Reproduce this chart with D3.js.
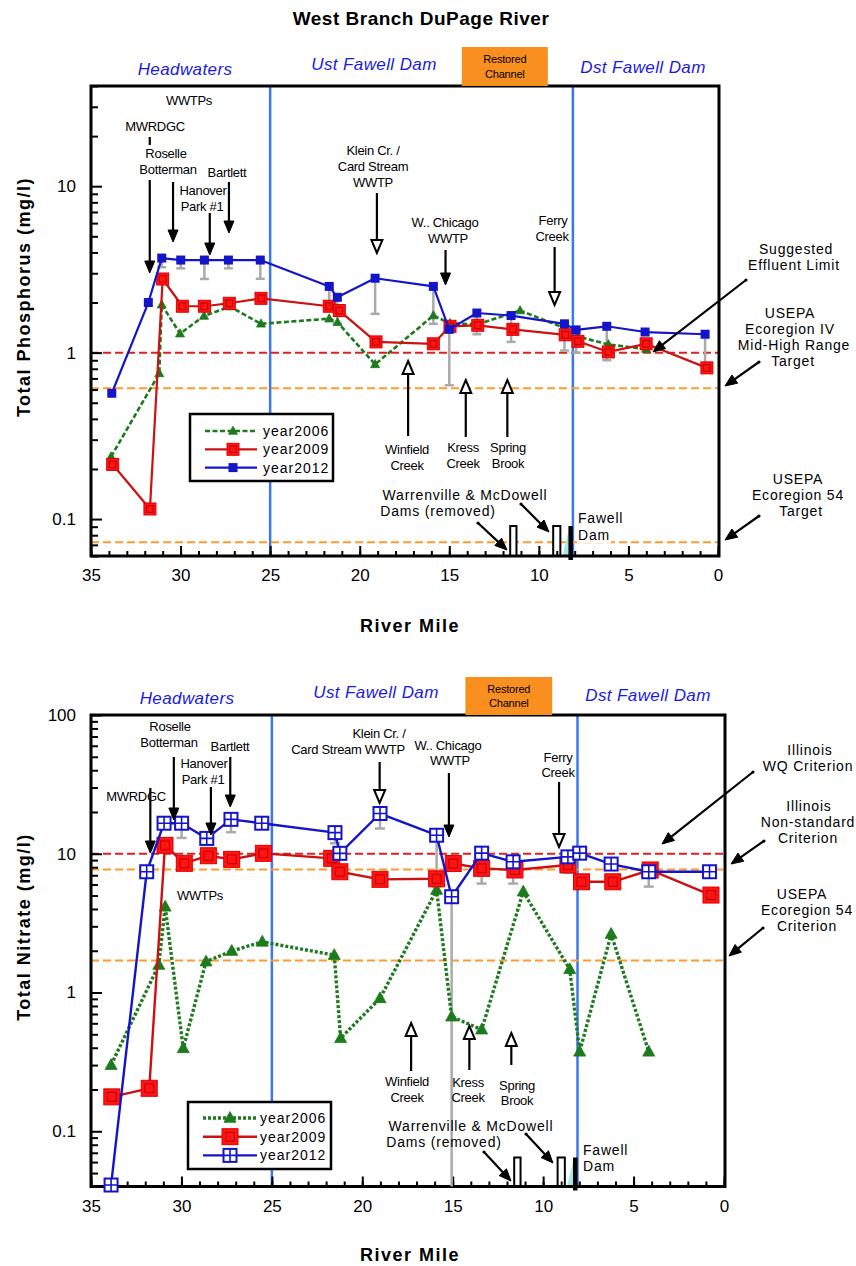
<!DOCTYPE html>
<html>
<head>
<meta charset="utf-8">
<script src="https://cdn.jsdelivr.net/npm/d3@7"></script>
<style>
  body { margin: 0; background: #fff; }
  svg { display: block; font-family: "Liberation Sans", Arial, Helvetica, sans-serif; }
</style>
</head>
<body>
<svg id="chart" width="856" height="1266"></svg>
<script>
// ---------------- data ----------------
const seriesNames = ["year2006", "year2009", "year2012"];

// Total phosphorus (mg/l) by river mile
const tpMile2006 = [33.88, 31.19, 31.05, 30.03, 28.69, 27.24, 25.51, 21.7, 21.24, 19.14, 15.89, 14.96, 13.41, 11.05, 8.53, 7.82, 6.12, 4.01];
const tpVal2006  = [0.237, 0.75, 1.94, 1.30, 1.66, 1.89, 1.49, 1.60, 1.52, 0.85, 1.67, 1.50, 1.48, 1.79, 1.40, 1.25, 1.12, 1.05];
const tpMile2009 = [33.79, 31.71, 31.0, 29.9, 28.67, 27.28, 25.51, 21.7, 21.14, 19.09, 15.89, 14.96, 13.41, 11.45, 8.53, 7.82, 6.12, 4.01, 0.62];
const tpVal2009  = [0.213, 0.115, 2.77, 1.90, 1.90, 1.98, 2.12, 1.90, 1.79, 1.16, 1.13, 1.44, 1.46, 1.38, 1.28, 1.17, 1.01, 1.13, 0.81];
const tpMile2012 = [33.84, 31.8, 31.05, 29.99, 28.67, 27.33, 25.55, 21.7, 21.25, 19.14, 15.89, 15.0, 13.46, 11.55, 8.57, 7.92, 6.21, 4.07, 0.72];
const tpVal2012  = [0.57, 2.0, 3.7, 3.6, 3.6, 3.6, 3.6, 2.5, 2.15, 2.8, 2.5, 1.38, 1.73, 1.67, 1.49, 1.37, 1.44, 1.33, 1.29];
const tpLow2012  = [null, null, 3.26, 3.21, 2.77, 3.21, 2.78, 2.01, 1.49, 1.71, 1.49, 0.637, 1.29, 1.16, 1.03, 1.0, 0.90, null, 0.84];

// Total nitrate (mg/l) by river mile
const noMile2006 = [33.89, 31.25, 30.9, 29.9, 28.64, 27.22, 25.53, 21.55, 21.2, 19.02, 15.89, 15.06, 13.4, 11.1, 8.53, 7.98, 6.24, 4.16];
const noVal2006  = [0.30, 1.58, 4.15, 0.396, 1.67, 1.99, 2.32, 1.86, 0.468, 0.908, 5.48, 0.67, 0.54, 5.33, 1.47, 0.374, 2.64, 0.374];
const noMile2009 = [33.85, 31.78, 30.91, 29.84, 28.51, 27.22, 25.47, 21.69, 21.24, 19.02, 15.89, 14.97, 13.4, 11.56, 8.63, 7.88, 6.15, 4.08, 0.72];
const noVal2009  = [0.177, 0.204, 11.5, 8.53, 9.68, 9.11, 10.07, 9.27, 7.42, 6.54, 6.6, 8.5, 7.85, 7.64, 8.3, 6.28, 6.28, 7.64, 5.04];
const noMile2012 = [33.89, 31.92, 30.96, 29.99, 28.6, 27.26, 25.56, 21.51, 21.24, 19.02, 15.89, 15.06, 13.4, 11.66, 8.63, 7.98, 6.24, 4.16, 0.8];
const noVal2012  = [0.041, 7.42, 16.6, 16.6, 12.9, 17.7, 16.6, 14.2, 10.07, 19.5, 13.6, 4.9, 10.1, 8.75, 9.5, 10.1, 8.43, 7.42, 7.42];
const noLow2012  = [null, null, null, 13.0, null, 14.3, null, 11.9, null, 15.2, 5.8, 0.01, 6.1, 6.1, 7.3, null, null, 5.8, null];

// criteria / targets
const tpRedLines = [1.0];
const tpOrangeLines = [0.61, 0.0725];
const noRedLines = [10];
const noOrangeLines = [7.7, 1.7];

// river features (river mile)
const xTickMiles = d3.range(0, 36);
const xLabelMiles = d3.range(0, 36, 5);
const reachBreakMiles = [25, 8.1];
const reachNames = ["Headwaters", "Ust Fawell Dam", "Dst Fawell Dam"];
const restoredReach = [14.3, 9.5];
const outfallNames = ["MWRDGC", "Roselle Botterman", "Hanover Park #1", "Bartlett", "Klein Cr. / Card Stream WWTP", "W.. Chicago WWTP", "Ferry Creek"];
const outfallMiles = [31.72, 30.42, 28.37, 27.3, 19.04, 15.21, 9.12];
const tributaryNames = ["Winfield Creek", "Kress Creek", "Spring Brook"];
const tributaryMiles = [17.3, 14.08, 11.76];
const damUpMiles = [11.6, 9.2, 8.35];
const damDownMiles = [11.25, 8.8, 8.1];

// ---------------- drawing ----------------
const svg = d3.select("#chart");
const GREEN = "#1d7a1d", RED = "#cc1111", REDFILL = "#ff1414", BLUE = "#1414c8";
const VLINE = "#3a78f0", ORANGE = "#ff9a2e", REFRED = "#dd2020", GRAY = "#aaaaaa";

function label(g, x, y, str, o = {}) {
  return g.append("text")
    .attr("x", x).attr("y", y).attr("dy", "0.35em")
    .attr("text-anchor", o.anchor || "middle")
    .style("font-size", (o.size || 13) + "px")
    .style("letter-spacing", (o.ls || 0) + "px")
    .style("font-style", o.italic ? "italic" : null)
    .style("font-weight", o.bold ? "bold" : null)
    .attr("fill", o.fill || "#000")
    .text(str);
}

function arrow(g, x1, y1, x2, y2, open, dot) {
  const ang = Math.atan2(y2 - y1, x2 - x1);
  const len = open ? 13 : 12, hw = open ? 5.5 : 5;
  const bx = x2 - len * Math.cos(ang), by = y2 - len * Math.sin(ang);
  const ex = open ? bx : x2 - len * 0.6 * Math.cos(ang);
  const ey = open ? by : y2 - len * 0.6 * Math.sin(ang);
  g.append("line").attr("x1", x1).attr("y1", y1).attr("x2", ex).attr("y2", ey)
    .attr("stroke", "#000").attr("stroke-width", 2.2);
  const px = -Math.sin(ang) * hw, py = Math.cos(ang) * hw;
  g.append("path")
    .attr("d", `M${x2},${y2}L${bx + px},${by + py}L${bx - px},${by - py}Z`)
    .attr("fill", open ? "#fff" : "#000")
    .attr("stroke", "#000").attr("stroke-width", open ? 2 : 1)
    .attr("stroke-linejoin", "miter");
  if (dot) g.append("circle").attr("cx", x1).attr("cy", y1).attr("r", 1.6).attr("fill", "#000");
}

function marker(g, kind, cx, cy, s) {
  if (kind === "tri") {
    const h = s * 0.9;
    g.append("path").attr("d", `M${cx},${cy - h * 0.6}L${cx + s / 2},${cy + h * 0.4}L${cx - s / 2},${cy + h * 0.4}Z`)
      .attr("fill", GREEN).attr("stroke", GREEN).attr("stroke-width", 0.8);
  } else if (kind === "red") {
    g.append("rect").attr("x", cx - s / 2).attr("y", cy - s / 2).attr("width", s).attr("height", s)
      .attr("fill", REDFILL).attr("stroke", "#dd0000").attr("stroke-width", 1);
    const i = s * 0.55;
    g.append("rect").attr("x", cx - i / 2).attr("y", cy - i / 2).attr("width", i).attr("height", i)
      .attr("fill", "none").attr("stroke", "#bb0000").attr("stroke-width", 1);
  } else if (kind === "blue") {
    g.append("rect").attr("x", cx - s / 2).attr("y", cy - s / 2).attr("width", s).attr("height", s)
      .attr("fill", BLUE);
  } else if (kind === "grid") {
    g.append("rect").attr("x", cx - s / 2).attr("y", cy - s / 2).attr("width", s).attr("height", s)
      .attr("fill", "#fff").attr("stroke", BLUE).attr("stroke-width", 2);
    g.append("path").attr("d", `M${cx},${cy - s / 2}V${cy + s / 2}M${cx - s / 2},${cy}H${cx + s / 2}`)
      .attr("stroke", BLUE).attr("stroke-width", 1.6);
  }
}

function drawPanel(p) {
  const x = d3.scaleLinear().domain([35, 0]).range([p.left, p.right]);
  const y = d3.scaleLog().domain(p.yDomain).range([p.bottom, p.top]);
  const g = svg.append("g");
  const clipId = "clip-" + p.key;
  svg.append("clipPath").attr("id", clipId).append("rect")
    .attr("x", p.left).attr("y", p.top).attr("width", p.right - p.left).attr("height", p.bottom - p.top);

  // reach boundaries
  reachBreakMiles.forEach(m => {
    g.append("line").attr("x1", x(m)).attr("x2", x(m)).attr("y1", p.top).attr("y2", p.bottom)
      .attr("stroke", VLINE).attr("stroke-width", 2.5);
  });

  // criteria lines
  p.redLines.forEach(v => {
    g.append("line").attr("x1", p.left).attr("x2", p.right).attr("y1", y(v)).attr("y2", y(v))
      .attr("stroke", REFRED).attr("stroke-width", 2).attr("stroke-dasharray", "8,4");
  });
  p.orangeLines.forEach(v => {
    g.append("line").attr("x1", p.left).attr("x2", p.right).attr("y1", y(v)).attr("y2", y(v))
      .attr("stroke", ORANGE).attr("stroke-width", 2).attr("stroke-dasharray", "8,4");
  });

  // dams
  damUpMiles.forEach((m, i) => {
    const x0 = x(m), x1 = x(damDownMiles[i]);
    if (i === 2) {
      g.append("path").attr("d", `M${x0 - 6},${p.bottom}L${x0},${p.bottom}L${x0},${p.bottom - 25}Z`)
        .attr("fill", "#a6e6ee");
      g.append("rect").attr("x", x0).attr("y", p.bottom - p.damH).attr("width", x1 - x0).attr("height", p.damH + 4)
        .attr("fill", "#000");
    } else {
      g.append("rect").attr("x", x0).attr("y", p.bottom - p.damH).attr("width", x1 - x0).attr("height", p.damH)
        .attr("fill", "#fff").attr("stroke", "#000").attr("stroke-width", 2);
    }
  });

  // axes (ticks point inward)
  const logTicks = [];
  const k0 = Math.floor(Math.log10(p.yDomain[0])), k1 = Math.ceil(Math.log10(p.yDomain[1]));
  for (let k = k0; k <= k1; k++) for (let m = 1; m <= 9; m++) {
    const v = +(m * Math.pow(10, k)).toPrecision(6);
    if (v >= p.yDomain[0] * 0.999 && v <= p.yDomain[1] * 1.001) logTicks.push({ v, major: m === 1 });
  }
  const yMinor = g.append("g").attr("transform", `translate(${p.left},0)`)
    .call(d3.axisLeft(y).tickValues(logTicks.filter(t => !t.major).map(t => t.v)).tickSize(-7).tickFormat(""));
  const yMajor = g.append("g").attr("transform", `translate(${p.left},0)`)
    .call(d3.axisLeft(y).tickValues(logTicks.filter(t => t.major).map(t => t.v)).tickSize(-11).tickPadding(15)
      .tickFormat(d3.format("~g")));
  const xMinor = g.append("g").attr("transform", `translate(0,${p.bottom})`)
    .call(d3.axisBottom(x).tickValues(xTickMiles).tickSize(-5).tickFormat(""));
  const xMajor = g.append("g").attr("transform", `translate(0,${p.bottom})`)
    .call(d3.axisBottom(x).tickValues(xLabelMiles).tickSize(-10).tickPadding(13).tickFormat(d3.format("d")));
  [yMinor, yMajor, xMinor, xMajor].forEach(a => {
    a.select(".domain").remove();
    a.selectAll("line").attr("stroke", "#000").attr("stroke-width", 2);
    a.selectAll("text").attr("fill", "#000").style("font-size", "17px")
      .style("font-family", '"Liberation Sans", Arial, sans-serif');
  });

  // frame
  g.append("rect").attr("x", p.left).attr("y", p.top).attr("width", p.frameRight - p.left).attr("height", p.bottom - p.top)
    .attr("fill", "none").attr("stroke", "#000").attr("stroke-width", 3);

  // lower whiskers for 2012
  const whisk = g.append("g").attr("clip-path", `url(#${clipId})`);
  p.lowVals.forEach((lv, i) => {
    if (lv == null) return;
    const cx = x(p.series[2].miles[i]);
    const ly = Math.min(y(lv), p.bottom + 10);
    whisk.append("line").attr("x1", cx).attr("x2", cx).attr("y1", y(p.series[2].vals[i])).attr("y2", ly)
      .attr("stroke", GRAY).attr("stroke-width", 2.5);
    whisk.append("line").attr("x1", cx - p.capW / 2).attr("x2", cx + p.capW / 2).attr("y1", ly).attr("y2", ly)
      .attr("stroke", GRAY).attr("stroke-width", 2.5);
  });

  // series
  p.series.forEach(s => {
    const pts = s.miles.map((m, i) => [x(m), y(s.vals[i])]);
    g.append("path").attr("d", d3.line()(pts)).attr("fill", "none")
      .attr("stroke", s.color).attr("stroke-width", s.width)
      .attr("stroke-dasharray", s.dash || null).attr("stroke-linejoin", "round");
    const mg = g.append("g");
    pts.forEach(pt => marker(mg, s.marker, pt[0], pt[1], s.size));
  });

  // legend
  const L = p.legend;
  const lg = g.append("g");
  lg.append("rect").attr("x", L.x).attr("y", L.y).attr("width", L.w).attr("height", L.h)
    .attr("fill", "#fff").attr("stroke", "#000").attr("stroke-width", 2.5);
  p.series.forEach((s, i) => {
    const ry = L.y + L.row0 + i * L.dy;
    lg.append("line").attr("x1", L.x + L.lx0).attr("x2", L.x + L.lx1).attr("y1", ry).attr("y2", ry)
      .attr("stroke", s.color).attr("stroke-width", s.width).attr("stroke-dasharray", s.dash || null);
    marker(lg, s.marker, L.x + L.mx, ry, s.size);
    label(lg, L.x + L.tx, ry, s.name, { anchor: "start", size: 14, ls: 1 });
  });

  // reach labels and restored channel
  const hg = g.append("g");
  p.reachLabels.forEach((r, i) => label(hg, r[0], r[1], reachNames[i], { size: 17, italic: true, ls: 0.4, fill: "#1a1ae6" }));
  hg.append("rect").attr("x", x(restoredReach[0])).attr("y", p.top - p.rcH)
    .attr("width", x(restoredReach[1]) - x(restoredReach[0])).attr("height", p.rcH).attr("fill", "#f98f1e");
  const rcx = (x(restoredReach[0]) + x(restoredReach[1])) / 2;
  label(hg, rcx, p.top - p.rcH * 0.68, "Restored", { size: 11, ls: -0.2 });
  label(hg, rcx, p.top - p.rcH * 0.3, "Channel", { size: 11, ls: -0.2 });

  // annotations
  const ag = g.append("g");
  p.texts.forEach(t => {
    const el = label(ag, t[0], t[1], t[2], Object.assign({ size: 13, ls: -0.3 }, t[3] || {}));
    if (t[3] && t[3].bg) {
      const bb = el.node().getBBox();
      ag.insert("rect", () => el.node()).attr("x", bb.x - 1).attr("y", bb.y).attr("width", bb.width + 2)
        .attr("height", bb.height).attr("fill", "#fff");
    }
  });
  p.outfallArrows.forEach(a => {
    const ax = x(outfallMiles[a.i]);
    if (a.stub) ag.append("line").attr("x1", ax).attr("x2", ax).attr("y1", a.stub[0]).attr("y2", a.stub[1])
      .attr("stroke", "#000").attr("stroke-width", 2.2);
    arrow(ag, ax, a.y1, ax, a.y2, a.open, false);
  });
  p.tribArrows.forEach(a => {
    const ax = x(tributaryMiles[a.i]);
    arrow(ag, ax, a.y1, ax, a.y2, true, false);
  });
  p.slantArrows.forEach(a => arrow(ag, a[0], a[1], a[2], a[3], false, true));

  // axis titles
  label(g, 410, p.xTitleY, "River Mile", { size: 18, bold: true, ls: 1.5 });
  g.append("text").attr("transform", `translate(24,${p.yTitleY}) rotate(-90)`)
    .attr("text-anchor", "middle").attr("dy", "0.35em")
    .style("font-size", "18px").style("font-weight", "bold").style("letter-spacing", "1.5px")
    .text(p.yTitle);
}

const sm = { bold: false };
const right = { size: 14, ls: 0.8 };

drawPanel({
  key: "tp", left: 91, right: 718, frameRight: 719, top: 86, bottom: 556,
  yDomain: [0.06, 40], yTitle: "Total Phosphorus (mg/l)", yTitleY: 297, xTitleY: 626,
  redLines: tpRedLines, orangeLines: tpOrangeLines, damH: 30, capW: 9, rcH: 39,
  series: [
    { name: seriesNames[0], miles: tpMile2006, vals: tpVal2006, color: GREEN, width: 2.6, dash: "5,2.5", marker: "tri", size: 9 },
    { name: seriesNames[1], miles: tpMile2009, vals: tpVal2009, color: RED, width: 2.2, marker: "red", size: 12 },
    { name: seriesNames[2], miles: tpMile2012, vals: tpVal2012, color: BLUE, width: 2.2, marker: "blue", size: 9 }
  ],
  lowVals: tpLow2012,
  legend: { x: 190, y: 414, w: 143, h: 67, row0: 17, dy: 18.3, lx0: 15, lx1: 67, mx: 43, tx: 73 },
  reachLabels: [[185, 69], [374, 64], [643, 67]],
  texts: [
    [189, 100, "WWTPs"], [155, 126, "MWRDGC"], [166, 153, "Roselle"], [168, 169, "Botterman"],
    [227, 172, "Bartlett"], [203, 190, "Hanover"], [202, 206, "Park #1"],
    [373, 150, "Klein Cr. /"], [373, 166, "Card Stream"], [373, 182, "WWTP"],
    [445, 222, "W.. Chicago"], [448, 238, "WWTP"], [553, 220, "Ferry"], [552, 236, "Creek"],
    [796, 249, "Suggested", right], [794, 265, "Effluent Limit", right],
    [790, 313, "USEPA", right], [790, 329, "Ecoregion IV", right], [794, 345, "Mid-High Range", right], [793, 361, "Target", right],
    [798, 479, "USEPA", right], [798, 495, "Ecoregion 54", right], [801, 511, "Target", right],
    [407, 449, "Winfield"], [407, 465, "Creek"], [463, 447, "Kress"], [463, 463, "Creek"],
    [508, 447, "Spring"], [508, 463, "Brook"],
    [465, 495, "Warrenville & McDowell", right], [438, 511, "Dams (removed)", right],
    [578, 518, "Fawell", { anchor: "start", size: 14, ls: 0.8, bg: true }],
    [578, 535, "Dam", { anchor: "start", size: 14, ls: 0.8, bg: true }]
  ],
  outfallArrows: [
    { i: 0, stub: [137, 145], y1: 180, y2: 273 },
    { i: 1, y1: 182, y2: 242 }, { i: 2, y1: 213, y2: 255 }, { i: 3, y1: 182, y2: 233 },
    { i: 4, y1: 193, y2: 253, open: true }, { i: 5, y1: 250, y2: 285 }, { i: 6, y1: 247, y2: 305, open: true }
  ],
  tribArrows: [{ i: 0, y1: 436, y2: 361 }, { i: 1, y1: 437, y2: 380 }, { i: 2, y1: 437, y2: 380 }],
  slantArrows: [[478, 523, 507, 550], [521, 504, 549, 532], [746, 280, 653, 352], [759, 362, 725, 386], [759, 516, 725, 540]]
});

drawPanel({
  key: "no", left: 91, right: 724, frameRight: 725, top: 715, bottom: 1186.5,
  yDomain: [0.04, 100], yTitle: "Total Nitrate (mg/l)", yTitleY: 927, xTitleY: 1255,
  redLines: noRedLines, orangeLines: noOrangeLines, damH: 29, capW: 10, rcH: 38,
  series: [
    { name: seriesNames[0], miles: noMile2006, vals: noVal2006, color: GREEN, width: 3.4, dash: "3,2", marker: "tri", size: 12 },
    { name: seriesNames[1], miles: noMile2009, vals: noVal2009, color: RED, width: 2.4, marker: "red", size: 16 },
    { name: seriesNames[2], miles: noMile2012, vals: noVal2012, color: BLUE, width: 2.4, marker: "grid", size: 13 }
  ],
  lowVals: noLow2012,
  legend: { x: 188, y: 1102, w: 143, h: 67, row0: 16, dy: 18.7, lx0: 15, lx1: 69, mx: 42, tx: 72 },
  reachLabels: [[187, 698], [376, 692], [648, 695]],
  texts: [
    [170, 726, "Roselle"], [169, 742, "Botterman"], [230, 746, "Bartlett"],
    [204, 763, "Hanover"], [203, 779, "Park #1"], [136, 796, "MWRDGC"], [200, 895, "WWTPs"],
    [379, 733, "Klein Cr. /"], [348, 749, "Card Stream WWTP"],
    [448, 745, "W.. Chicago"], [450, 760, "WWTP"], [558, 757, "Ferry"], [558, 772, "Creek"],
    [810, 750, "Illinois", right], [808, 766, "WQ Criterion", right],
    [809, 806, "Illinois", right], [808, 822, "Non-standard", right], [808, 838, "Criterion", right],
    [802, 894, "USEPA", right], [807, 910, "Ecoregion 54", right], [807, 926, "Criterion", right],
    [407, 1081, "Winfield"], [407, 1097, "Creek"], [468, 1082, "Kress"], [468, 1097, "Creek"],
    [517, 1085, "Spring"], [517, 1100, "Brook"],
    [471, 1126, "Warrenville & McDowell", right], [444, 1142, "Dams (removed)", right],
    [583, 1150, "Fawell", { anchor: "start", size: 14, ls: 0.8 }],
    [583, 1166, "Dam", { anchor: "start", size: 14, ls: 0.8 }]
  ],
  outfallArrows: [
    { i: 0, y1: 788, y2: 853 }, { i: 1, y1: 757, y2: 820 }, { i: 2, y1: 787, y2: 835 }, { i: 3, y1: 757, y2: 807 },
    { i: 4, y1: 762, y2: 803, open: true }, { i: 5, y1: 773, y2: 837 }, { i: 6, y1: 782, y2: 847, open: true }
  ],
  tribArrows: [{ i: 0, y1: 1071, y2: 1023 }, { i: 1, y1: 1070, y2: 1026 }, { i: 2, y1: 1065, y2: 1033 }],
  slantArrows: [[484, 1152, 511, 1181], [526, 1134, 553, 1163], [753, 772, 662, 844], [764, 841, 731, 864], [763, 928, 729, 956]]
});

// title
label(svg, 421, 18, "West Branch DuPage River", { size: 19, bold: true, ls: 0.5 });
</script>
</body>
</html>
